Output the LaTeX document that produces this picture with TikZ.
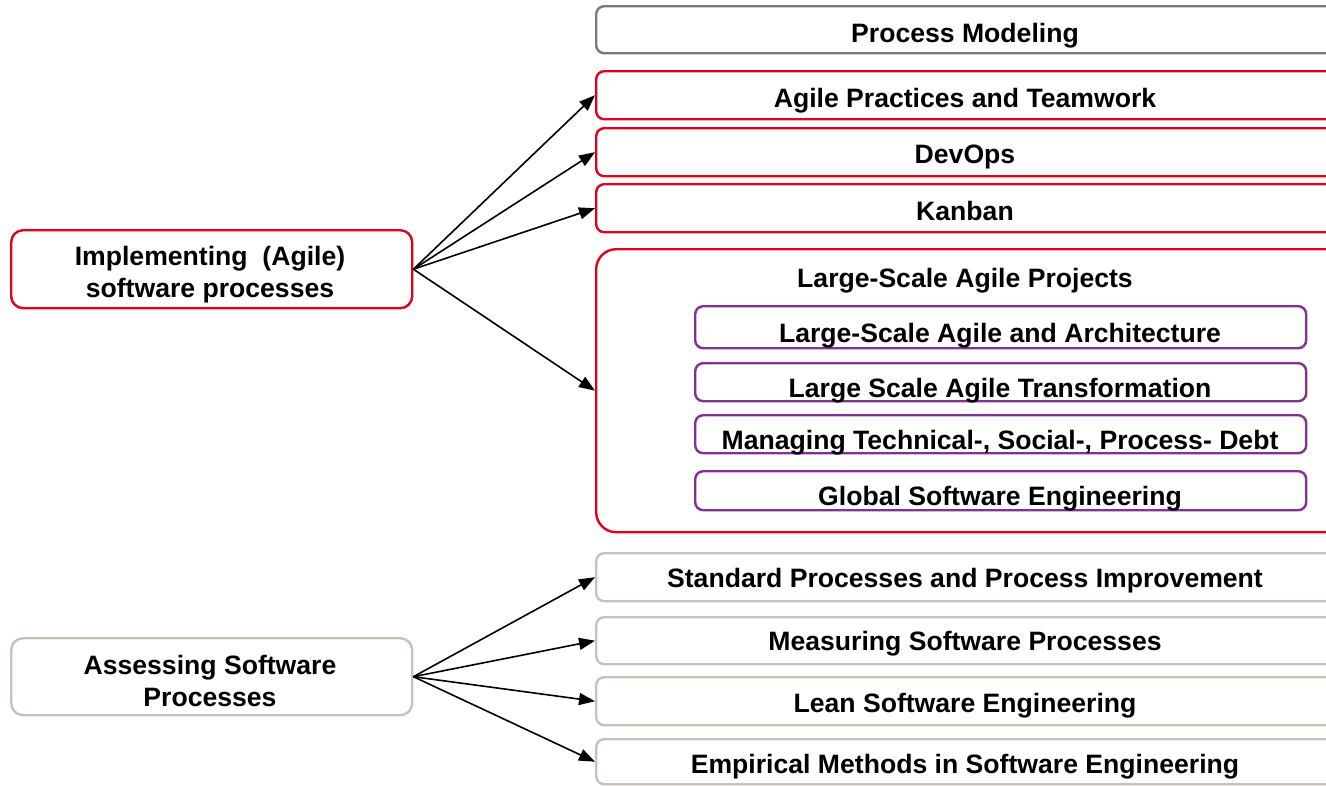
\documentclass[tikz,border=0pt]{standalone}
\usepackage{fontspec}
\setmainfont{Liberation Sans}
\usetikzlibrary{arrows.meta}
\definecolor{boxred}{RGB}{226,0,26}
\definecolor{boxpurple}{RGB}{128,50,145}
\definecolor{boxgray}{RGB}{120,120,120}
\definecolor{boxbeige}{RGB}{200,193,185}
\begin{document}
\begin{tikzpicture}[x=1pt,y=-1pt,
  box/.style={draw, line width=2.4pt, rounded corners=8pt, inner sep=0pt, anchor=north west, fill=white},
  redbox/.style={box, draw=boxred},
  purplebox/.style={box, draw=boxpurple},
  graybox/.style={box, draw=boxgray},
  beigebox/.style={box, draw=boxbeige},
  txt/.style={font=\fontsize{26.6}{32}\selectfont\bfseries, inner sep=0pt, anchor=base, align=center},
  txtc/.style={txt, anchor=center},
  arr/.style={-{Triangle[length=16pt,width=12pt]}, line width=1.6pt}
]
\useasboundingbox (0,0) rectangle (1326,785);
\clip (0,0) rectangle (1326,785);

% right-hand boxes
\node[graybox, minimum width=760, minimum height=47] (pm) at (595,5) {};
\node[txt] (pmT) at (965,42) {Process Modeling};
\node[redbox, minimum width=760, minimum height=48] (agile) at (595,70) {};
\node[txt] (agileT) at (965,107) {Agile Practices and Teamwork};
\node[redbox, minimum width=760, minimum height=48] (devops) at (595,127) {};
\node[txt] (devopsT) at (965,163) {DevOps};
\node[redbox, minimum width=760, minimum height=48] (kanban) at (595,183) {};
\node[txt] (kanbanT) at (965,220) {Kanban};

\node[redbox, rounded corners=20pt, minimum width=760, minimum height=283] (large) at (595,248) {};
\node[txt] (largeT) at (965,287) {Large-Scale Agile Projects};
\node[purplebox, minimum width=611, minimum height=42] (arch) at (694,305) {};
\node[txt] (archT) at (1000,342) {Large-Scale Agile and Architecture};
\node[purplebox, minimum width=611, minimum height=38] (trans) at (694,362) {};
\node[txt] (transT) at (1000,397) {Large Scale Agile Transformation};
\node[purplebox, minimum width=611, minimum height=38] (debt) at (694,414) {};
\node[txt] (debtT) at (1000,449) {Managing Technical-, Social-, Process- Debt};
\node[purplebox, minimum width=611, minimum height=39] (gse) at (694,470) {};
\node[txt] (gseT) at (1000,505) {Global Software Engineering};

\node[beigebox, minimum width=760, minimum height=48] (std) at (595,552) {};
\node[txt] (stdT) at (965,587) {Standard Processes and Process Improvement};
\node[beigebox, minimum width=760, minimum height=47] (meas) at (595,616) {};
\node[txt] (measT) at (965,650) {Measuring Software Processes};
\node[beigebox, minimum width=760, minimum height=48] (lean) at (595,676) {};
\node[txt] (leanT) at (965,712) {Lean Software Engineering};
\node[beigebox, minimum width=760, minimum height=45] (emp) at (595,738) {};
\node[txt] (empT) at (965,773) {Empirical Methods in Software Engineering};

% left-hand boxes
\node[redbox, rounded corners=12pt, minimum width=401, minimum height=78] (impl) at (10,229) {};
\node[txtc] (implT) at (210,275) {Implementing\ \ (Agile)\\software processes};
\node[beigebox, rounded corners=12pt, minimum width=401, minimum height=77] (assess) at (10,637) {};
\node[txtc] (assessT) at (210,681) {Assessing Software\\Processes};

% connectors
\draw[arr] (impl.east) -- (agile.west);
\draw[arr] (impl.east) -- (devops.west);
\draw[arr] (impl.east) -- (kanban.west);
\draw[arr] (impl.east) -- (large.west);
\draw[arr] (assess.east) -- (std.west);
\draw[arr] (assess.east) -- (meas.west);
\draw[arr] (assess.east) -- (lean.west);
\draw[arr] (assess.east) -- (emp.west);
\end{tikzpicture}
\end{document}
